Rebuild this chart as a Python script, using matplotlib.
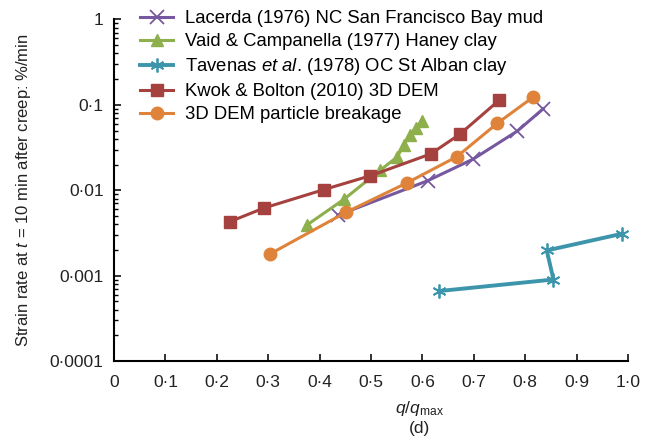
import matplotlib
matplotlib.use("Agg")
import matplotlib.pyplot as plt
from matplotlib.ticker import FixedLocator, FixedFormatter, LogLocator, NullFormatter

plt.rcParams['font.family'] = ['Liberation Sans', 'DejaVu Sans']
plt.rcParams['mathtext.fontset'] = 'custom'
plt.rcParams['mathtext.rm'] = 'Liberation Sans'
plt.rcParams['mathtext.it'] = 'Liberation Sans:italic'

# q/qmax vs strain rate (%/min) for each data set
lacerda_x = [0.436, 0.610, 0.699, 0.785, 0.835]
lacerda_y = [0.0051, 0.0129, 0.0232, 0.0495, 0.090]

vaid_x = [0.375, 0.447, 0.518, 0.551, 0.564, 0.576, 0.588, 0.599]
vaid_y = [0.0039, 0.0078, 0.0172, 0.0245, 0.034, 0.0446, 0.0537, 0.0649]

tavenas_x = [0.633, 0.855, 0.842, 0.988]
tavenas_y = [0.00066, 0.00090, 0.00197, 0.00309]

kwok_x = [0.226, 0.292, 0.409, 0.499, 0.616, 0.673, 0.749]
kwok_y = [0.0043, 0.0062, 0.0102, 0.0148, 0.0266, 0.0454, 0.113]

dem_x = [0.304, 0.451, 0.570, 0.667, 0.746, 0.816]
dem_y = [0.0018, 0.0055, 0.0122, 0.0247, 0.061, 0.124]

x_ticks = [0, 0.1, 0.2, 0.3, 0.4, 0.5, 0.6, 0.7, 0.8, 0.9, 1.0]
x_labels = ['0', '0·1', '0·2', '0·3', '0·4', '0·5', '0·6', '0·7', '0·8', '0·9', '1·0']
y_ticks = [0.0001, 0.001, 0.01, 0.1, 1]
y_labels = ['0·0001', '0·001', '0·01', '0·1', '1']

fig = plt.figure(figsize=(6.56, 4.46), dpi=100)
ax = fig.add_axes([0.1738, 0.1906, 0.7835, 0.7657])

lw = 2.2
ax.plot(lacerda_x, lacerda_y, color='#7558A0', lw=lw, marker='x', ms=10, mew=1.3,
        label='Lacerda (1976) NC San Francisco Bay mud')
ax.plot(vaid_x, vaid_y, color='#8DAF4C', lw=lw, marker='^', ms=9,
        label='Vaid & Campanella (1977) Haney clay')
ax.plot(tavenas_x, tavenas_y, color='#3D95AB', lw=lw + 0.6, marker=(6, 2, 0), ms=10, mew=1.3,
        label='Tavenas $et\\ al$. (1978) OC St Alban clay')
ax.plot(kwok_x, kwok_y, color='#A5413F', lw=lw, marker='s', ms=8.5,
        label='Kwok & Bolton (2010) 3D DEM')
ax.plot(dem_x, dem_y, color='#E0833A', lw=lw, marker='o', ms=9,
        label='3D DEM particle breakage')

ax.set_yscale('log')
ax.set_xlim(0, 1.0)
ax.set_ylim(0.0001, 1)
ax.xaxis.set_major_locator(FixedLocator(x_ticks))
ax.xaxis.set_major_formatter(FixedFormatter(x_labels))
ax.yaxis.set_major_locator(FixedLocator(y_ticks))
ax.yaxis.set_major_formatter(FixedFormatter(y_labels))
ax.yaxis.set_minor_locator(LogLocator(base=10, subs=range(2, 10)))
ax.yaxis.set_minor_formatter(NullFormatter())

for side in ['top', 'right']:
    ax.spines[side].set_visible(False)
for side in ['left', 'bottom']:
    ax.spines[side].set_linewidth(1.5)
ax.tick_params(axis='both', which='major', direction='in', length=5, width=1.3,
               labelsize=12.5, colors='#222222')
ax.tick_params(axis='y', which='major', pad=7.5)
ax.tick_params(axis='y', which='minor', direction='in', length=3, width=1.0)
ax.tick_params(axis='x', which='major', pad=10)

ax.set_ylabel('Strain rate at $t$ = 10 min after creep: %/min', fontsize=12,
              color='#222222', labelpad=12)
fig.text(0.640, 0.085, '$q/q_{\\mathrm{max}}$', ha='center', va='center',
         fontsize=12.5, color='#222222')
fig.text(0.640, 0.040, '(d)', ha='center', va='center', fontsize=12.5, color='#222222')

ax.legend(loc='upper left', bbox_to_anchor=(0.208, 0.985), bbox_transform=fig.transFigure,
          frameon=False, fontsize=13.3, handlelength=1.8, handletextpad=0.65,
          labelspacing=0.32, borderaxespad=0, borderpad=0.2)

fig.savefig('out.png', dpi=100)
